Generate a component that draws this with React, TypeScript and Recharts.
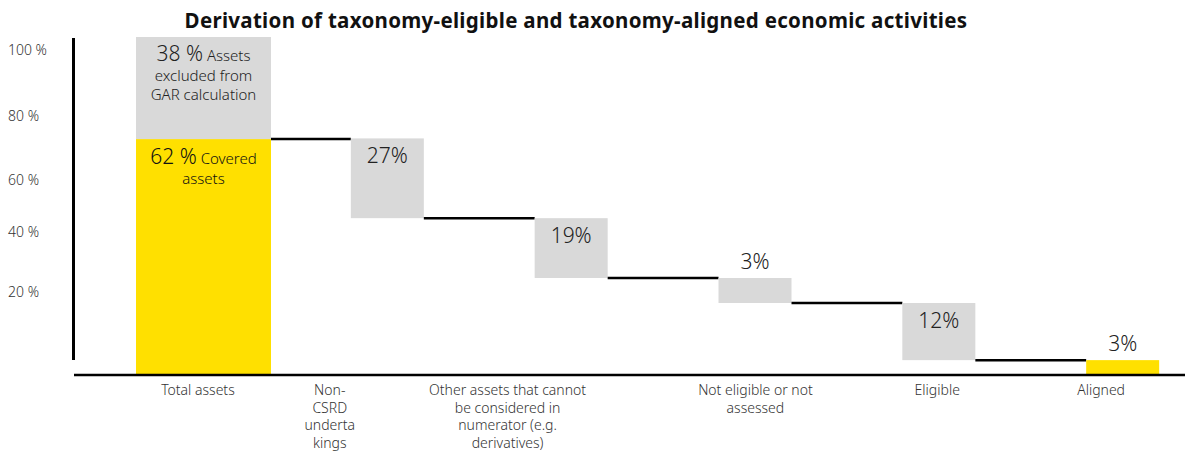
import React from 'react';
import { BarChart, Bar, XAxis, YAxis, LabelList } from 'recharts';

// categories of the waterfall (line breaks as in the source)
const categories = [
  'Total assets',
  'Non-\nCSRD\nunderta\nkings',
  'Other assets that cannot\nbe considered in\nnumerator (e.g.\nderivatives)',
  'Not eligible or not\nassessed',
  'Eligible',
  'Aligned',
];
// bar extents read against the drawn axis (0 = baseline, 100 = top of total assets)
const baseValues = [0, 46.4, 28.7, 21.3, 4.4, 0];
const stepValues = [69.8, 23.6, 17.7, 7.4, 16.9, 4.4];
const excludedValues = [30.2, 0, 0, 0, 0, 0];
const stepTypes = ['total', 'drop', 'drop', 'drop', 'drop', 'result'];
const stepLabels = ['62 %', '27%', '19%', '3%', '12%', '3%'];
const coveredText = ['Covered', 'assets'];
const excludedLabel = '38 %';
const excludedText = ['Assets', 'excluded from', 'GAR calculation'];
const yTicks = [96.2, 76.6, 57.7, 42.3, 24.6];
const yTickLabels = ['100 %', '80 %', '60 %', '40 %', '20 %'];

const data = categories.map((name, i) => ({
  name,
  base: baseValues[i],
  step: stepValues[i],
  excluded: excludedValues[i],
  type: stepTypes[i],
}));

const W = 1185;
const H = 452;
const PLOT_LEFT = 74;
const PAD_L = 38;
const PAD_R = -30;
const BAND = (W - PLOT_LEFT - PAD_L - PAD_R) / categories.length;
const BAR_W = 73;
const TOTAL_W = 135;
const YELLOW = '#FFE000';
const GREY = '#D9D9D9';
const TEXT = '#333';
const FONT = '"Noto Sans", sans-serif';
// small shifts of the axis labels, as placed in the source
const tickShift = [-6, -58, -64, 0, -2, -22];

const StepShape = (props: any) => {
  const { x, y, width, height, index } = props;
  const w = index === 0 ? TOTAL_W : width;
  const left = x + width / 2 - w / 2;
  const fill = stepTypes[index] === 'drop' ? GREY : YELLOW;
  const lineY = index === 0 ? y : y + height;
  return (
    <g>
      <rect x={left} y={y} width={w} height={height} fill={fill} />
      {index < categories.length - 1 && (
        <line x1={left + w} x2={x + BAND} y1={lineY} y2={lineY} stroke="#000" strokeWidth={2.5} />
      )}
    </g>
  );
};

const ExcludedShape = (props: any) => {
  const { x, y, width, height, index } = props;
  if (!height || height <= 0) return <g />;
  const w = index === 0 ? TOTAL_W : width;
  return <rect x={x + width / 2 - w / 2} y={y} width={w} height={height} fill={GREY} />;
};

const StepLabel = (props: any) => {
  const { x, y, width, height, index } = props;
  const cx = x + width / 2;
  if (index === 0) {
    return (
      <text x={cx} y={y + 25} textAnchor="middle" fill="#111" fontFamily={FONT} fontWeight={300}>
        <tspan fontSize={21}>{stepLabels[0]}</tspan>
        <tspan fontSize={15}> {coveredText[0]}</tspan>
        <tspan x={cx} dy={20} fontSize={15}>{coveredText[1]}</tspan>
      </text>
    );
  }
  const inside = height >= 40;
  return (
    <text
      x={cx}
      y={inside ? y + 25 : y - 9}
      textAnchor="middle"
      fill="#222"
      fontSize={21}
      fontWeight={300}
      fontFamily={FONT}
    >
      {stepLabels[index]}
    </text>
  );
};

const ExcludedLabel = (props: any) => {
  const { x, y, width, index } = props;
  if (index !== 0) return null;
  const cx = x + width / 2;
  return (
    <text x={cx} y={y + 24} textAnchor="middle" fill="#222" fontFamily={FONT} fontWeight={300}>
      <tspan fontSize={21}>{excludedLabel}</tspan>
      <tspan fontSize={15}> {excludedText[0]}</tspan>
      <tspan x={cx} dy={20} fontSize={15}>{excludedText[1]}</tspan>
      <tspan x={cx} dy={19} fontSize={15}>{excludedText[2]}</tspan>
    </text>
  );
};

const XTick = (props: any) => {
  const { x, payload, index } = props;
  const lines = String(payload.value).split('\n');
  const tx = x + (tickShift[index] ?? 0);
  return (
    <text x={tx} y={395} textAnchor="middle" fill={TEXT} fontSize={14} fontWeight={300} fontFamily={FONT}>
      {lines.map((l, i) => (
        <tspan key={i} x={tx} dy={i === 0 ? 0 : 17.7}>
          {l}
        </tspan>
      ))}
    </text>
  );
};

const YTick = (props: any) => {
  const { y, payload } = props;
  const i = yTicks.indexOf(payload.value);
  return (
    <text x={8} y={y + 5} textAnchor="start" fill={TEXT} fontSize={14} fontWeight={300} fontFamily={FONT}>
      {yTickLabels[i]}
    </text>
  );
};

export default function App() {
  return (
    <div style={{ position: 'absolute', left: 0, top: 0, width: W, height: H, overflow: 'hidden', background: '#fff' }}>
      <div
        style={{
          position: 'absolute',
          left: 176,
          width: 800,
          top: 8,
          textAlign: 'center',
          fontFamily: FONT,
          fontWeight: 700,
          fontSize: 20.5,
          letterSpacing: 0.3,
          lineHeight: '24px',
          color: '#111',
        }}
      >
        Derivation of taxonomy-eligible and taxonomy-aligned economic activities
      </div>
      <div style={{ position: 'absolute', left: 72, top: 38, width: 3, height: 322, background: '#000' }} />
      <BarChart width={W} height={H} data={data} margin={{ top: 37, right: 0, bottom: 0, left: 0 }} barSize={BAR_W}>
        <XAxis
          dataKey="name"
          height={77}
          interval={0}
          padding={{ left: PAD_L, right: PAD_R }}
          axisLine={{ stroke: '#000', strokeWidth: 2.5 }}
          tickLine={false}
          tick={<XTick />}
        />
        <YAxis
          width={PLOT_LEFT}
          domain={[0, 100]}
          ticks={yTicks}
          axisLine={false}
          tickLine={false}
          tick={<YTick />}
        />
        <Bar dataKey="base" stackId="w" fill="transparent" isAnimationActive={false} />
        <Bar dataKey="step" stackId="w" shape={<StepShape />} isAnimationActive={false}>
          <LabelList dataKey="step" content={<StepLabel />} />
        </Bar>
        <Bar dataKey="excluded" stackId="w" shape={<ExcludedShape />} isAnimationActive={false}>
          <LabelList dataKey="excluded" content={<ExcludedLabel />} />
        </Bar>
      </BarChart>
    </div>
  );
}
